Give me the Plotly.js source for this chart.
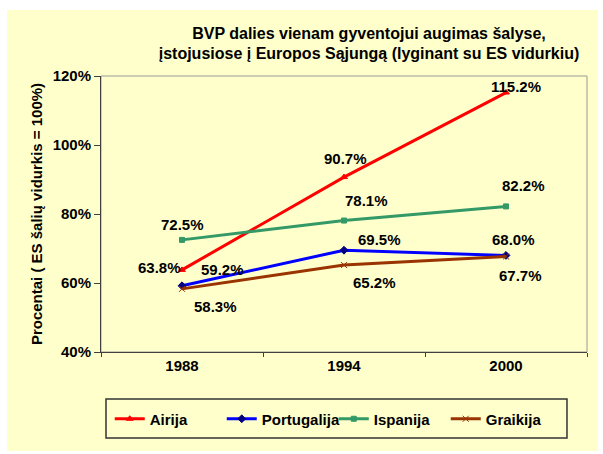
<!DOCTYPE html>
<html>
<head>
<meta charset="utf-8">
<script src="https://cdn.plot.ly/plotly-3.0.1.min.js"></script>
<style>
html, body { margin:0; padding:0; background:#ffffff; }
#chart { position:absolute; left:7px; top:10px; width:591px; height:441px; }
</style>
</head>
<body>
<div id="chart"></div>
<script>
// ---- data ----
var years = ['1988', '1994', '2000'];
var seriesNames = ['Airija', 'Portugalija', 'Ispanija', 'Graikija'];
var airija = [63.8, 90.7, 115.2];
var portugalija = [59.2, 69.5, 68.0];
var ispanija = [72.5, 78.1, 82.2];
var graikija = [58.3, 65.2, 67.7];
var yTicks = [40, 60, 80, 100, 120];

// ---- styles ----
var FONT = 'Liberation Sans, Arial, sans-serif';
var seriesValues = [airija, portugalija, ispanija, graikija];
var lineColors = ['#FF0000', '#0000FF', '#339966', '#993300'];
var markerColors = ['#FF0000', '#000080', '#339966', '#993300'];
var markerSymbols = ['triangle-up', 'diamond', 'square', 'x-thin'];
var markerSizes = [6, 6, 5, 6];
// label offsets in px (dx right, dy down) for each series / point
var labelOffsets = [
  [[-23, -2], [1, -19], [10, -6]],
  [[40, -16], [35, -11], [7, -16]],
  [[0, -15], [22, -20], [17, -21]],
  [[33, 18], [30, 17], [14, 19]]
];

var traces = seriesValues.map(function (vals, i) {
  return {
    type: 'scatter',
    mode: 'lines+markers',
    name: seriesNames[i],
    x: years,
    y: vals,
    line: { color: lineColors[i], width: 3 },
    marker: { symbol: markerSymbols[i], size: markerSizes[i], color: markerColors[i],
              line: { color: markerColors[i], width: 1 } },
    hoverinfo: 'skip'
  };
});

var annotations = [];
seriesValues.forEach(function (vals, i) {
  vals.forEach(function (v, j) {
    annotations.push({
      x: j, y: v, xref: 'x', yref: 'y',   // category index of years[j]
      text: v.toFixed(1) + '%',
      showarrow: false,
      xanchor: 'center', yanchor: 'middle',
      xshift: labelOffsets[i][j][0],
      yshift: -labelOffsets[i][j][1],
      font: { family: FONT, size: 15, color: '#000000', weight: 'bold' }
    });
  });
});

var layout = {
  width: 591,
  height: 441,
  paper_bgcolor: '#FFFFCC',
  plot_bgcolor: '#FFFFCC',
  margin: { l: 94, r: 11, t: 66, b: 99 },
  title: {
    text: 'BVP dalies vienam gyventojui augimas šalyse,<br>įstojusiose į Europos Sąjungą (lyginant su ES vidurkiu)',
    font: { family: FONT, size: 16, color: '#000000', weight: 'bold' },
    x: 0.6125, xanchor: 'center',
    y: 0.935, yanchor: 'middle'
  },
  xaxis: {
    type: 'category',
    range: [-0.5, 2.5],
    showgrid: false,
    zeroline: false,
    showline: true,
    linecolor: '#404040',
    linewidth: 1,
    ticks: 'outside',
    tickson: 'boundaries',
    ticklen: 4,
    tickcolor: '#404040',
    tickfont: { family: FONT, size: 15, color: '#000000', weight: 'bold' }
  },
  yaxis: {
    range: [40, 120],
    tickvals: yTicks,
    ticktext: yTicks.map(function (t) { return t + '%'; }),
    showgrid: false,
    zeroline: false,
    showline: true,
    linecolor: '#404040',
    linewidth: 1,
    ticks: 'outside',
    ticklen: 6,
    tickcolor: '#404040',
    tickfont: { family: FONT, size: 15, color: '#000000', weight: 'bold' },
    title: {
      text: 'Procentai ( ES šalių vidurkis = 100%)',
      font: { family: FONT, size: 15, color: '#000000', weight: 'bold' },
      standoff: 6
    }
  },
  shapes: [
    { type: 'rect', xref: 'paper', yref: 'paper', x0: 0, x1: 1, y0: 0, y1: 1,
      line: { color: '#999999', width: 1 }, layer: 'below' },
    // legend frame
    { type: 'rect', xref: 'paper', yref: 'paper', x0: 0.0103, x1: 0.9588, y0: -0.1703, y1: -0.3116,
      line: { color: '#333333', width: 1.5 }, fillcolor: 'rgba(0,0,0,0)', layer: 'above' }
  ],
  showlegend: true,
  legend: {
    orientation: 'h',
    x: 0.018, xanchor: 'left',
    y: -0.2428, yanchor: 'middle',
    bgcolor: 'rgba(0,0,0,0)',
    borderwidth: 0,
    entrywidth: 67,
    font: { family: FONT, size: 15, color: '#000000', weight: 'bold' }
  },
  annotations: annotations
};

Plotly.newPlot('chart', traces, layout, { staticPlot: true, displayModeBar: false });
</script>
</body>
</html>
